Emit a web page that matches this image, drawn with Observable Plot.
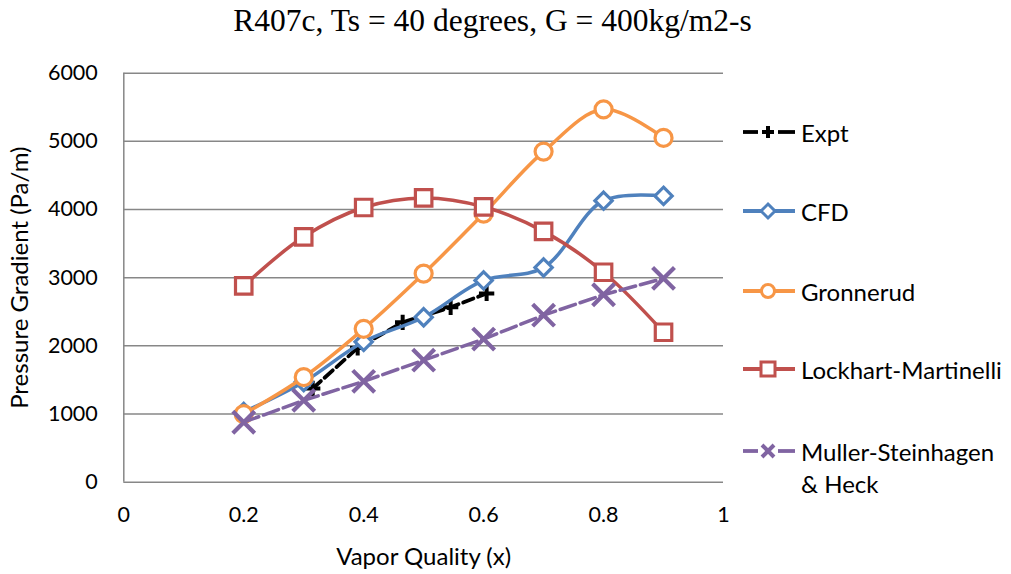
<!DOCTYPE html>
<html>
<head>
<meta charset="utf-8">
<script src="https://cdn.jsdelivr.net/npm/d3@7"></script>
<script src="https://cdn.jsdelivr.net/npm/@observablehq/plot@0.6"></script>
<style>
  html, body { margin: 0; padding: 0; background: #fff; }
  #wrap { position: relative; width: 1011px; height: 574px; overflow: hidden; background: #fff; }
  #title { position: absolute; top: 3px; left: 0; width: 985px; text-align: center; line-height: 36px;
           font-family: "Liberation Serif", "Times New Roman", serif; font-size: 31.5px; color: #000; }
  #chart { position: absolute; top: 50px; left: 0; }
  .leg { position: absolute; left: 741px; height: 30px; display: flex; align-items: center;
         font-family: Lato, "Open Sans", sans-serif; font-size: 24px; color: #000; white-space: nowrap; }
  .leg svg { margin-right: 4px; }
  .leg2 { position: absolute; left: 801px; height: 30px; line-height: 30px; font-family: Lato, "Open Sans", sans-serif; font-size: 24px; color: #000; }
</style>
</head>
<body>
<div id="wrap">
  <div id="title">R407c, Ts = 40 degrees, G = 400kg/m2-s</div>
  <div id="chart"></div>
  <div id="legend"></div>
</div>
<script>
// ---- data ----
const xQuality = [0.2, 0.3, 0.4, 0.5, 0.6, 0.7, 0.8, 0.9];
const cfd      = [1030, 1470, 2060, 2420, 2960, 3150, 4130, 4200];
const gronnerud= [1000, 1540, 2250, 3060, 3940, 4850, 5470, 5050];
const lockhart = [2880, 3600, 4030, 4170, 4040, 3680, 3080, 2200];
const muller   = [880, 1200, 1480, 1790, 2100, 2450, 2750, 2990];
const exptX    = [0.315, 0.39, 0.465, 0.545, 0.605];
const exptY    = [1375, 1970, 2345, 2565, 2770];
const xTicks   = [0, 0.2, 0.4, 0.6, 0.8, 1];
const yTicks   = [0, 1000, 2000, 3000, 4000, 5000, 6000];
const seriesNames = ["Expt", "CFD", "Gronnerud", "Lockhart-Martinelli", "Muller-Steinhagen", "& Heck"];

const colors = {expt: "#000000", cfd: "#4F81BD", gron: "#F79646", lm: "#C0504D", ms: "#8064A2"};
const grid = "#878787";

const tbl = (xs, ys) => xs.map((x, i) => ({x, y: ys[i]}));
const dExpt = tbl(exptX, exptY);
const dCfd = tbl(xQuality, cfd);
const dGron = tbl(xQuality, gronnerud);
const dLm = tbl(xQuality, lockhart);
const dMs = tbl(xQuality, muller);

const chart = Plot.plot({
  width: 1011,
  height: 524,
  marginTop: 22.7,
  marginBottom: 92.3,
  marginLeft: 123.3,
  marginRight: 288,
  x: {domain: [0, 1]},
  y: {domain: [0, 6000]},
  style: {fontFamily: "Lato, 'Open Sans', sans-serif", fontSize: "21.5px", color: "#000", background: "#fff", overflow: "visible"},
  marks: [
    Plot.gridY(yTicks, {stroke: grid, strokeOpacity: 1, strokeWidth: 1.5}),
    Plot.ruleX([0], {stroke: grid, strokeWidth: 1.5}),
    Plot.axisY(yTicks, {tickSize: 0, tickPadding: 26, tickFormat: d => String(d), label: null}),
    Plot.axisY({label: "Pressure Gradient (Pa/m)", labelAnchor: "center", labelArrow: "none", labelOffset: 113,
      ticks: [], tickSize: 0, fontSize: 24}),
    Plot.axisX(xTicks, {tickSize: 0, tickPadding: 25, tickFormat: d => String(d), label: null}),
    Plot.axisX({label: "Vapor Quality (x)", labelAnchor: "center", labelArrow: "none", labelOffset: 83,
      ticks: [], tickSize: 0, fontSize: 24}),
    // Expt
    Plot.line(dExpt, {x: "x", y: "y", stroke: colors.expt, strokeWidth: 3.8, strokeDasharray: "11,5"}),
    Plot.dot(dExpt, {x: "x", y: "y", symbol: "plus", stroke: colors.expt, strokeWidth: 4, r: 5}),
    // CFD
    Plot.line(dCfd, {x: "x", y: "y", stroke: colors.cfd, strokeWidth: 3.5, curve: "catmull-rom"}),
    Plot.dot(dCfd, {x: "x", y: "y", symbol: "diamond2", stroke: colors.cfd, fill: "#fff", strokeWidth: 3.2, r: 7.8}),
    // Gronnerud
    Plot.line(dGron, {x: "x", y: "y", stroke: colors.gron, strokeWidth: 3.5, curve: "catmull-rom"}),
    Plot.dot(dGron, {x: "x", y: "y", symbol: "circle", stroke: colors.gron, fill: "#fff", strokeWidth: 3.2, r: 8.5}),
    // Lockhart-Martinelli
    Plot.line(dLm, {x: "x", y: "y", stroke: colors.lm, strokeWidth: 3.5, curve: "catmull-rom"}),
    Plot.dot(dLm, {x: "x", y: "y", symbol: "square", stroke: colors.lm, fill: "#fff", strokeWidth: 3.2, r: 9.3}),
    // Muller-Steinhagen & Heck
    Plot.line(dMs, {x: "x", y: "y", stroke: colors.ms, strokeWidth: 3.5, strokeDasharray: "16,5"}),
    Plot.dot(dMs, {x: "x", y: "y", symbol: "times", stroke: colors.ms, strokeWidth: 4.2, r: 10})
  ]
});
document.getElementById("chart").appendChild(chart);

// ---- legend ----
const legendItems = [
  {name: seriesNames[0], color: colors.expt, dash: true, sym: "plus", cy: 132},
  {name: seriesNames[1], color: colors.cfd, dash: false, sym: "diamond", cy: 211},
  {name: seriesNames[2], color: colors.gron, dash: false, sym: "circle", cy: 291},
  {name: seriesNames[3], color: colors.lm, dash: false, sym: "square", cy: 369},
  {name: seriesNames[4], color: colors.ms, dash: true, sym: "times", cy: 451}
];
function glyph(it) {
  const c = it.color;
  let m = "";
  if (it.sym === "plus") m = `<path d="M21 15H33M27 9V21" stroke="${c}" stroke-width="4" fill="none"/>`;
  if (it.sym === "diamond") m = `<path d="M27 8L34 15L27 22L20 15Z" stroke="${c}" stroke-width="3" fill="#fff"/>`;
  if (it.sym === "circle") m = `<circle cx="27" cy="15" r="6.5" stroke="${c}" stroke-width="3" fill="#fff"/>`;
  if (it.sym === "square") m = `<rect x="20" y="8" width="14" height="14" stroke="${c}" stroke-width="3" fill="#fff"/>`;
  if (it.sym === "times") m = `<path d="M21 9L33 21M33 9L21 21" stroke="${c}" stroke-width="4" fill="none"/>`;
  const line = it.dash
    ? `<line x1="2" y1="15" x2="17" y2="15" stroke="${c}" stroke-width="3.8"/><line x1="37" y1="15" x2="54" y2="15" stroke="${c}" stroke-width="3.8"/>`
    : `<line x1="2" y1="15" x2="54" y2="15" stroke="${c}" stroke-width="3.8"/>`;
  return `<svg width="56" height="30" viewBox="0 0 56 30">${line}${m}</svg>`;
}
const leg = document.getElementById("legend");
legendItems.forEach(it => {
  const d = document.createElement("div");
  d.className = "leg";
  d.style.top = (it.cy - 15) + "px";
  d.innerHTML = glyph(it) + `<span>${it.name}</span>`;
  leg.appendChild(d);
});
const d2 = document.createElement("div");
d2.className = "leg2";
d2.style.top = (484 - 15) + "px";
d2.textContent = seriesNames[5];
leg.appendChild(d2);
</script>
</body>
</html>
